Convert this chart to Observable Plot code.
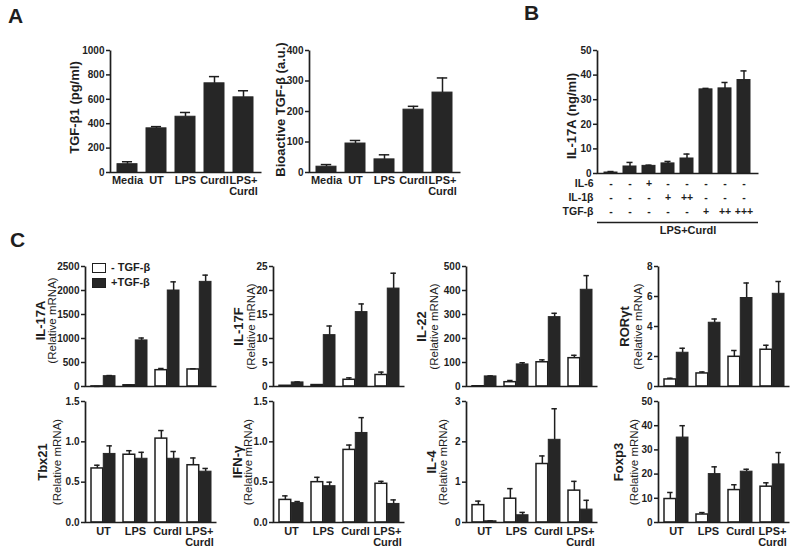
<!DOCTYPE html>
<html><head><meta charset="utf-8">
<script src="https://cdn.jsdelivr.net/npm/d3@7"></script>
<script src="https://cdn.jsdelivr.net/npm/@observablehq/plot@0.6"></script>
<style>
body{margin:0;background:#fff;}
#fig{position:relative;width:798px;height:553px;overflow:hidden;font-family:"Liberation Sans",Arial,Helvetica,sans-serif;color:#1e1e1e;}
#fig svg{position:absolute;overflow:visible;}
.letter{position:absolute;font-weight:bold;font-size:21px;line-height:21px;}
.leg{position:absolute;font-weight:bold;font-size:11px;line-height:11px;white-space:nowrap;}
.sw{display:inline-block;width:12px;height:8px;border:1.5px solid #1e1e1e;vertical-align:middle;margin-right:5px;}
</style></head><body><div id="fig"></div>
<script>
// ---------- DATA ----------
// Panel A
const aCats = ["Media", "UT", "LPS", "Curdl", "LPS+\nCurdl"];
const tgfb1 = [68, 362, 457, 731, 616];
const tgfb1Err = [88, 376, 492, 786, 670];
const aTicks1 = [0, 200, 400, 600, 800, 1000];
const bioTgfb = [19, 95, 43, 206, 262];
const bioTgfbErr = [26, 105, 58, 217, 310];
const aTicks2 = [0, 100, 200, 300, 400];
// Panel B
const bConds = ["c1", "c2", "c3", "c4", "c5", "c6", "c7", "c8"];
const il17aNg = [0.4, 2.85, 3.1, 4.1, 6.1, 34.2, 34.6, 38.0];
const il17aNgErr = [0.8, 4.5, 3.4, 4.9, 7.9, 34.6, 37.0, 41.7];
const bTicks = [0, 10, 20, 30, 40, 50];
const bRowLabels = ["IL-6", "IL-1β", "TGF-β"];
const il6Signs = ["-", "-", "+", "-", "-", "-", "-", "-"];
const il1bSigns = ["-", "-", "-", "+", "++", "-", "-", "-"];
const tgfbSigns = ["-", "-", "-", "-", "-", "+", "++", "+++"];
const bFooter = "LPS+Curdl";
// Panel C
const cGroups = ["UT", "LPS", "Curdl", "LPS+\nCurdl"];
const cSeries = ["- TGF-β", "+TGF-β"];
const il17aMinus = [2, 25, 340, 355];     const il17aMinusErr = [2, 27, 375, 370];
const il17aPlus = [215, 960, 2000, 2180]; const il17aPlusErr = [228, 1010, 2180, 2320];
const il17fMinus = [0.15, 0.3, 1.4, 2.4]; const il17fMinusErr = [0.15, 0.3, 1.8, 3.0];
const il17fPlus = [0.85, 10.7, 15.5, 20.4]; const il17fPlusErr = [0.95, 12.6, 17.2, 23.6];
const il22Minus = [1, 18, 101, 118];      const il22MinusErr = [1, 25, 111, 130];
const il22Plus = [42, 92, 289, 403];      const il22PlusErr = [44, 99, 305, 462];
const rorgtMinus = [0.47, 0.87, 1.98, 2.45]; const rorgtMinusErr = [0.55, 0.97, 2.4, 2.75];
const rorgtPlus = [2.25, 4.25, 5.9, 6.18];   const rorgtPlusErr = [2.55, 4.5, 6.9, 7.0];
const tbx21Minus = [0.67, 0.84, 1.04, 0.71]; const tbx21MinusErr = [0.71, 0.89, 1.14, 0.80];
const tbx21Plus = [0.85, 0.79, 0.79, 0.63];  const tbx21PlusErr = [0.95, 0.87, 0.88, 0.67];
const ifngMinus = [0.28, 0.50, 0.90, 0.48];  const ifngMinusErr = [0.33, 0.56, 0.96, 0.51];
const ifngPlus = [0.24, 0.45, 1.11, 0.23];   const ifngPlusErr = [0.26, 0.50, 1.30, 0.28];
const il4Minus = [0.43, 0.59, 1.45, 0.79];   const il4MinusErr = [0.53, 0.84, 1.65, 1.02];
const il4Plus = [0.03, 0.18, 2.05, 0.32];    const il4PlusErr = [0.04, 0.25, 2.82, 0.55];
const foxp3Minus = [9.7, 3.3, 13.4, 14.8];   const foxp3MinusErr = [12.4, 4.1, 15.6, 16.4];
const foxp3Plus = [35.1, 20, 21, 24];        const foxp3PlusErr = [40, 23, 22, 28.9];

// ---------- STYLE / HELPERS ----------
const FONT = '"Liberation Sans", Arial, Helvetica, sans-serif';
const INK = "#1e1e1e", BAR = "#262626";
const fig = document.getElementById("fig");
const svgStyle = {background: "transparent", fontFamily: FONT, fontSize: "10px", fontWeight: "bold", color: INK, overflow: "visible"};

function bandGeom(x0, x1, n, pi, po) {
  const step = (x1 - x0) / (n - pi + 2 * po);
  return {step, bw: step * (1 - pi)};
}
function axesFrame(w, h) {
  // draws only the bottom and left edges of the frame (Prism-style axes)
  return Plot.frame({stroke: INK, strokeWidth: 1.7, strokeDasharray: `0 ${w + h} ${w + h}`});
}
function yLabel(text, off, size, weight, dy = 0) {
  return Plot.text([text], {frameAnchor: "left", rotate: -90, dx: -off, dy, fontSize: size, fontWeight: weight, textAnchor: "middle", fill: INK});
}
function place(el, left, top) {
  el.style.left = left + "px"; el.style.top = top + "px";
  fig.appendChild(el);
}
const fmtInt = d3.format("d");
const fmt1 = d3.format(".1f");

function simplePlot(o) {
  const {bw} = bandGeom(o.x0, o.x1, o.cats.length, o.pi, o.po);
  const data = o.cats.map((c, i) => ({c, v: o.vals[i], e: o.errs[i]}));
  const marks = [
    Plot.barY(data, {x: "c", y: "v", fill: BAR, stroke: BAR, strokeWidth: 1}),
    Plot.ruleX(data, {x: "c", y1: "v", y2: "e", stroke: INK, strokeWidth: 1.5}),
    Plot.tickY(data, {x: "c", y: "e", stroke: INK, strokeWidth: 1.5, insetLeft: (bw - o.cap) / 2, insetRight: (bw - o.cap) / 2}),
    axesFrame(o.x1 - o.x0, o.yZero - o.yTop),
    Plot.axisY({ticks: o.yTicks, tickSize: 4, tickPadding: 2, strokeWidth: 1.5, tickFormat: fmtInt, label: null}),
    yLabel(o.ylabel, o.ylabOff, 13, "bold", o.ylabDy || 0),
    ...(o.xAxis ? [Plot.axisX({tickSize: 0, tickPadding: 4, fontSize: 11, label: null})] : []),
    ...(o.extra || [])
  ];
  const p = Plot.plot({
    width: o.width, height: o.height,
    marginLeft: o.x0 - o.left, marginRight: o.left + o.width - o.x1,
    marginTop: o.yTop - o.top, marginBottom: o.top + o.height - o.yZero,
    style: svgStyle,
    x: {type: "band", domain: o.cats, paddingInner: o.pi, paddingOuter: o.po, axis: null},
    y: {domain: [0, o.yMax], axis: null},
    marks
  });
  place(p, o.left, o.top);
}

// ---------- PANEL A ----------
simplePlot({cats: aCats, vals: tgfb1, errs: tgfb1Err, left: 0, top: 0, width: 270, height: 205,
  x0: 110, x1: 261, yTop: 50, yZero: 172, yMax: 1000, yTicks: aTicks1, pi: 0.3, po: 0.18, cap: 11,
  ylabel: "TGF-β1 (pg/ml)", ylabOff: 36, ylabDy: -4, xAxis: true});
simplePlot({cats: aCats, vals: bioTgfb, errs: bioTgfbErr, left: 262, top: 0, width: 208, height: 205,
  x0: 309, x1: 460, yTop: 50, yZero: 172, yMax: 400, yTicks: aTicks2, pi: 0.3, po: 0.22, cap: 11,
  ylabel: "Bioactive TGF-β (a.u.)", ylabOff: 29, ylabDy: -2, xAxis: true});

// ---------- PANEL B ----------
const bRows = [il6Signs, il1bSigns, tgfbSigns];
const rowDy = [13, 27, 41];
const bExtra = [];
bRows.forEach((row, r) => {
  bExtra.push(Plot.text(bConds.map((c, i) => ({c, s: row[i]})), {x: "c", text: "s", frameAnchor: "bottom", dy: rowDy[r], fontSize: 10.5, fill: INK}));
  bExtra.push(Plot.text([bRowLabels[r]], {frameAnchor: "bottom-left", dx: -4, dy: rowDy[r], textAnchor: "end", fontSize: 10.5, fill: INK}));
});
bExtra.push(Plot.ruleY([0], {dy: 49, stroke: INK, strokeWidth: 1.3}));
bExtra.push(Plot.text([bFooter], {frameAnchor: "bottom", dy: 60, dx: 10, fontSize: 11, fill: INK}));
simplePlot({cats: bConds, vals: il17aNg, errs: il17aNgErr, left: 530, top: 0, width: 268, height: 245,
  x0: 597, x1: 758, yTop: 50, yZero: 173, yMax: 50, yTicks: bTicks, pi: 0.3, po: 0.2, cap: 7,
  ylabel: "IL-17A (ng/ml)", ylabOff: 26, ylabDy: 4, xAxis: false, extra: bExtra});

// ---------- PANEL C ----------
function groupedPlot(o) {
  const pi = 0.25, po = 0.125, W = 131, cap = 6;
  const x0 = o.x0, x1 = x0 + W;
  const {bw} = bandGeom(x0, x1, cGroups.length, pi, po);
  const minus = cGroups.map((g, i) => ({g, s: cSeries[0], v: o.minus[i], e: o.minusErr[i]}));
  const plus = cGroups.map((g, i) => ({g, s: cSeries[1], v: o.plus[i], e: o.plusErr[i]}));
  const ML = 85;
  const left = x0 - ML, width = ML + W + 5;
  const marks = [
    Plot.barY(minus, {x: "g", y: "v", fill: "white", stroke: INK, strokeWidth: 1.5, insetRight: bw / 2}),
    Plot.barY(plus, {x: "g", y: "v", fill: BAR, stroke: BAR, strokeWidth: 1, insetLeft: bw / 2}),
    Plot.ruleX(minus, {x: "g", y1: "v", y2: "e", dx: -bw / 4, stroke: INK, strokeWidth: 1.5}),
    Plot.ruleX(plus, {x: "g", y1: "v", y2: "e", dx: bw / 4, stroke: INK, strokeWidth: 1.5}),
    Plot.tickY(minus, {x: "g", y: "e", stroke: INK, strokeWidth: 1.5, insetLeft: bw / 4 - cap / 2, insetRight: 3 * bw / 4 - cap / 2}),
    Plot.tickY(plus, {x: "g", y: "e", stroke: INK, strokeWidth: 1.5, insetLeft: 3 * bw / 4 - cap / 2, insetRight: bw / 4 - cap / 2}),
    axesFrame(W, o.yZero - o.yTop),
    Plot.axisY({ticks: o.yTicks, tickSize: 4, tickPadding: 2, strokeWidth: 1.5, tickFormat: o.fmt, label: null}),
    yLabel(o.name, o.offs[0], 13, "bold", o.dy || 0),
    yLabel("(Relative mRNA)", o.offs[1], 11.5, "normal", o.dy || 0),
    ...(o.xAxis ? [Plot.axisX({tickSize: 0, tickPadding: 5, fontSize: 11, label: null})] : [])
  ];
  const p = Plot.plot({
    width, height: o.height,
    marginLeft: ML, marginRight: width - ML - W,
    marginTop: o.yTop - o.top, marginBottom: o.top + o.height - o.yZero,
    style: svgStyle,
    x: {type: "band", domain: cGroups, paddingInner: pi, paddingOuter: po, axis: null},
    y: {domain: [0, o.yMax], axis: null},
    marks
  });
  place(p, left, o.top);
}
const cX = [85, 273, 466, 658];
const topRow = {top: 250, height: 142, yTop: 266, yZero: 386, xAxis: false};
const botRow = {top: 392, height: 161, yTop: 401, yZero: 522, xAxis: true};
groupedPlot({...topRow, x0: cX[0], name: "IL-17A", offs: [45, 33], dy: -6, minus: il17aMinus, minusErr: il17aMinusErr, plus: il17aPlus, plusErr: il17aPlusErr, yMax: 2500, yTicks: [0, 500, 1000, 1500, 2000, 2500], fmt: fmtInt});
groupedPlot({...topRow, x0: cX[1], name: "IL-17F", offs: [35, 22], minus: il17fMinus, minusErr: il17fMinusErr, plus: il17fPlus, plusErr: il17fPlusErr, yMax: 25, yTicks: [0, 5, 10, 15, 20, 25], fmt: fmtInt});
groupedPlot({...topRow, x0: cX[2], name: "IL-22", offs: [45, 32], minus: il22Minus, minusErr: il22MinusErr, plus: il22Plus, plusErr: il22PlusErr, yMax: 500, yTicks: [0, 100, 200, 300, 400, 500], fmt: fmtInt});
groupedPlot({...topRow, x0: cX[3], name: "RORγt", offs: [34, 20], minus: rorgtMinus, minusErr: rorgtMinusErr, plus: rorgtPlus, plusErr: rorgtPlusErr, yMax: 8, yTicks: [0, 2, 4, 6, 8], fmt: fmtInt});
groupedPlot({...botRow, x0: cX[0], name: "Tbx21", offs: [43, 28], minus: tbx21Minus, minusErr: tbx21MinusErr, plus: tbx21Plus, plusErr: tbx21PlusErr, yMax: 1.5, yTicks: [0, 0.5, 1, 1.5], fmt: fmt1});
groupedPlot({...botRow, x0: cX[1], name: "IFN-γ", offs: [36, 25], minus: ifngMinus, minusErr: ifngMinusErr, plus: ifngPlus, plusErr: ifngPlusErr, yMax: 1.5, yTicks: [0, 0.5, 1, 1.5], fmt: fmt1});
groupedPlot({...botRow, x0: cX[2], name: "IL-4", offs: [35, 23], minus: il4Minus, minusErr: il4MinusErr, plus: il4Plus, plusErr: il4PlusErr, yMax: 3, yTicks: [0, 1, 2, 3], fmt: fmtInt});
groupedPlot({...botRow, x0: cX[3], name: "Foxp3", offs: [40, 24], minus: foxp3Minus, minusErr: foxp3MinusErr, plus: foxp3Plus, plusErr: foxp3PlusErr, yMax: 50, yTicks: [0, 10, 20, 30, 40, 50], fmt: fmtInt});

// ---------- LEGEND (panel C) ----------
[[cSeries[0], "white", 263], [cSeries[1], BAR, 278]].forEach(([label, color, y]) => {
  const d = document.createElement("div");
  d.className = "leg";
  d.style.left = "92px"; d.style.top = (y - 1) + "px";
  d.innerHTML = `<span class="sw" style="background:${color}"></span>${label}`;
  fig.appendChild(d);
});

// ---------- PANEL LETTERS ----------
[["A", 8, 5], ["B", 524, 2], ["C", 10, 229]].forEach(([t, x, y]) => {
  const d = document.createElement("div");
  d.className = "letter"; d.textContent = t;
  d.style.left = x + "px"; d.style.top = y + "px";
  fig.appendChild(d);
});
</script></body></html>
